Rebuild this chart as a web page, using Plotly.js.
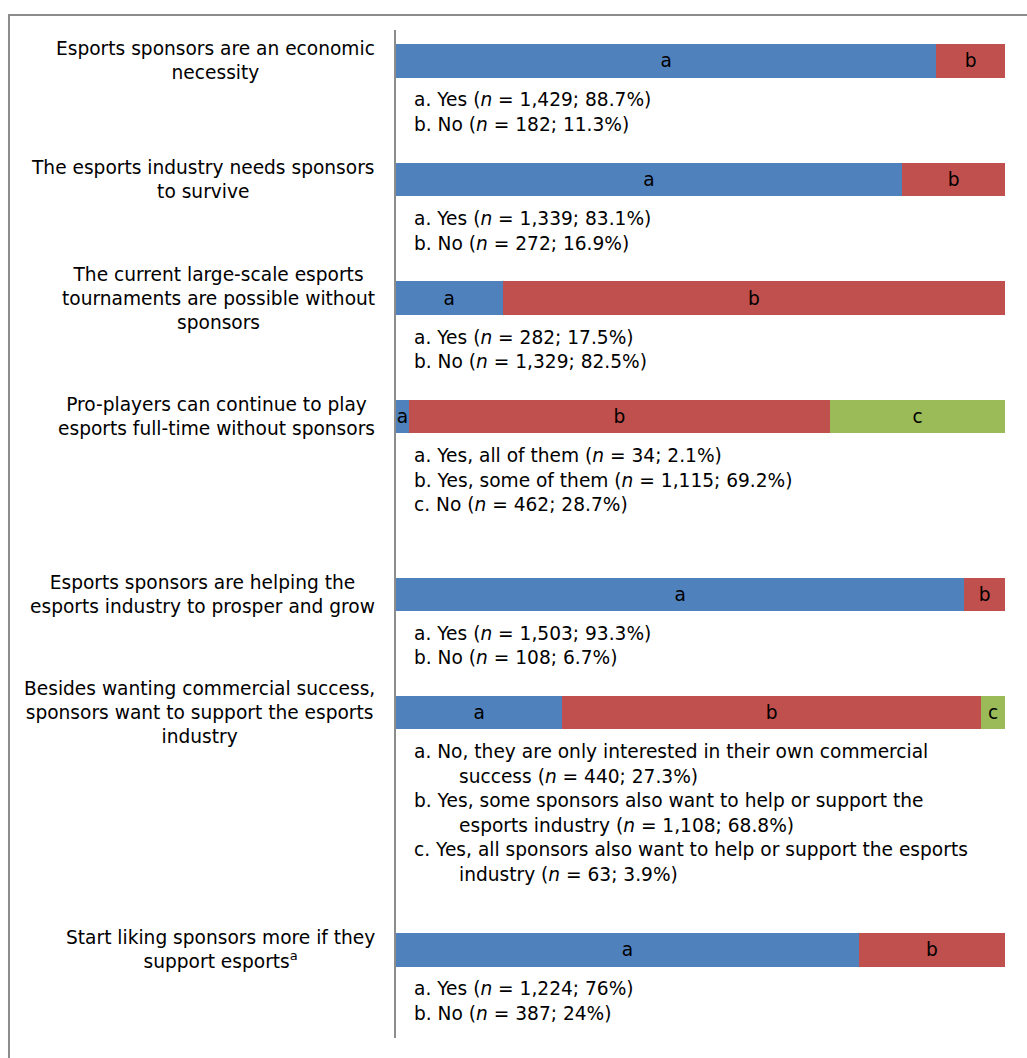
<!DOCTYPE html>
<html>
<head>
<meta charset="utf-8">
<script src="https://cdn.plot.ly/plotly-3.0.1.min.js"></script>
<style>html,body{margin:0;padding:0;background:#fff;}#chart{width:1027px;height:1058px;}</style>
</head>
<body>
<div id="chart"></div>
<script>
// ---- data ----
const questions = [
  "Esports sponsors are an economic<br>necessity",
  "The esports industry needs sponsors<br>to survive",
  "The current large-scale esports<br>tournaments are possible without<br>sponsors",
  "Pro-players can continue to play<br>esports full-time without sponsors",
  "Esports sponsors are helping the<br>esports industry to prosper and grow",
  "Besides wanting commercial success,<br>sponsors want to support the esports<br>industry",
  "Start liking sponsors more if they<br>support esports<sup>a</sup>"
];
const positions = [0, 1, 2, 3, 4.5, 5.5, 7.5];
const shareA = [88.7, 83.1, 17.5, 2.1, 93.3, 27.3, 76];
const shareB = [11.3, 16.9, 82.5, 69.2, 6.7, 68.8, 24];
const shareC = [null, null, null, 28.7, null, 3.9, null];
const segLabels = ["a", "b", "c"];
// each answer item: array of lines (continuation lines get a hanging indent)
const answers = [
  [["a. Yes (<i>n</i> = 1,429; 88.7%)"], ["b. No (<i>n</i> = 182; 11.3%)"]],
  [["a. Yes (<i>n</i> = 1,339; 83.1%)"], ["b. No (<i>n</i> = 272; 16.9%)"]],
  [["a. Yes (<i>n</i> = 282; 17.5%)"], ["b. No (<i>n</i> = 1,329; 82.5%)"]],
  [["a. Yes, all of them (<i>n</i> = 34; 2.1%)"], ["b. Yes, some of them (<i>n</i> = 1,115; 69.2%)"], ["c. No (<i>n</i> = 462; 28.7%)"]],
  [["a. Yes (<i>n</i> = 1,503; 93.3%)"], ["b. No (<i>n</i> = 108; 6.7%)"]],
  [["a. No, they are only interested in their own commercial", "success (<i>n</i> = 440; 27.3%)"],
   ["b. Yes, some sponsors also want to help or support the", "esports industry (<i>n</i> = 1,108; 68.8%)"],
   ["c. Yes, all sponsors also want to help or support the esports", "industry (<i>n</i> = 63; 3.9%)"]],
  [["a. Yes (<i>n</i> = 1,224; 76%)"], ["b. No (<i>n</i> = 387; 24%)"]]
];

// ---- styles ----
const colors = ["#4F81BD", "#C0504D", "#9BBB59"];
const FONT = "DejaVu Sans, Verdana, sans-serif";
const FS = 18.6;

const series = [shareA, shareB, shareC];
const traces = series.map((vals, k) => {
  const idx = vals.map((v, i) => i).filter(i => vals[i] != null);
  return {
    type: "bar",
    orientation: "h",
    y: idx.map(i => positions[i]),
    x: idx.map(i => vals[i]),
    width: 0.28,
    marker: {color: colors[k], line: {width: 0}},
    text: idx.map(() => segLabels[k]),
    textposition: "inside",
    insidetextanchor: "middle",
    constraintext: "none",
    textfont: {family: FONT, size: FS, color: "#000"},
    hoverinfo: "skip",
    showlegend: false
  };
});

const annotations = [];
questions.forEach((q, i) => {
  annotations.push({
    xref: "paper", yref: "y", x: 0, y: positions[i],
    xanchor: "right", yanchor: "middle", xshift: -19,
    align: "center", text: q, showarrow: false,
    font: {family: FONT, size: FS, color: "#000"}
  });
  let line = 0;
  answers[i].forEach(item => {
    item.forEach((t, j) => {
      annotations.push({
        xref: "paper", yref: "y", x: 0, y: positions[i],
        xanchor: "left", yanchor: "middle",
        xshift: j === 0 ? 16 : 61,
        yshift: -(39 + line * 24.5),
        align: "left", text: t, showarrow: false,
        font: {family: FONT, size: FS, color: "#000"}
      });
      line++;
    });
  });
});

const layout = {
  width: 1027, height: 1058,
  margin: {l: 396, r: 22, t: 30, b: 20},
  paper_bgcolor: "#fff", plot_bgcolor: "#fff",
  barmode: "stack",
  xaxis: {range: [0, 100], visible: false, fixedrange: true},
  yaxis: {range: [8.243, -0.2615], showticklabels: false, showgrid: false,
          zeroline: false, showline: true, linecolor: "#8c8c8c", linewidth: 2, ticks: ""},
  annotations: annotations,
  shapes: [{type: "rect", xref: "paper", yref: "paper",
            x0: -0.6355, x1: 1.2, y0: -0.2, y1: 1.0149,
            line: {color: "#8c8c8c", width: 2}, fillcolor: "rgba(0,0,0,0)", layer: "below"}]
};

Plotly.newPlot("chart", traces, layout, {displayModeBar: false, staticPlot: true});
</script>
</body>
</html>
